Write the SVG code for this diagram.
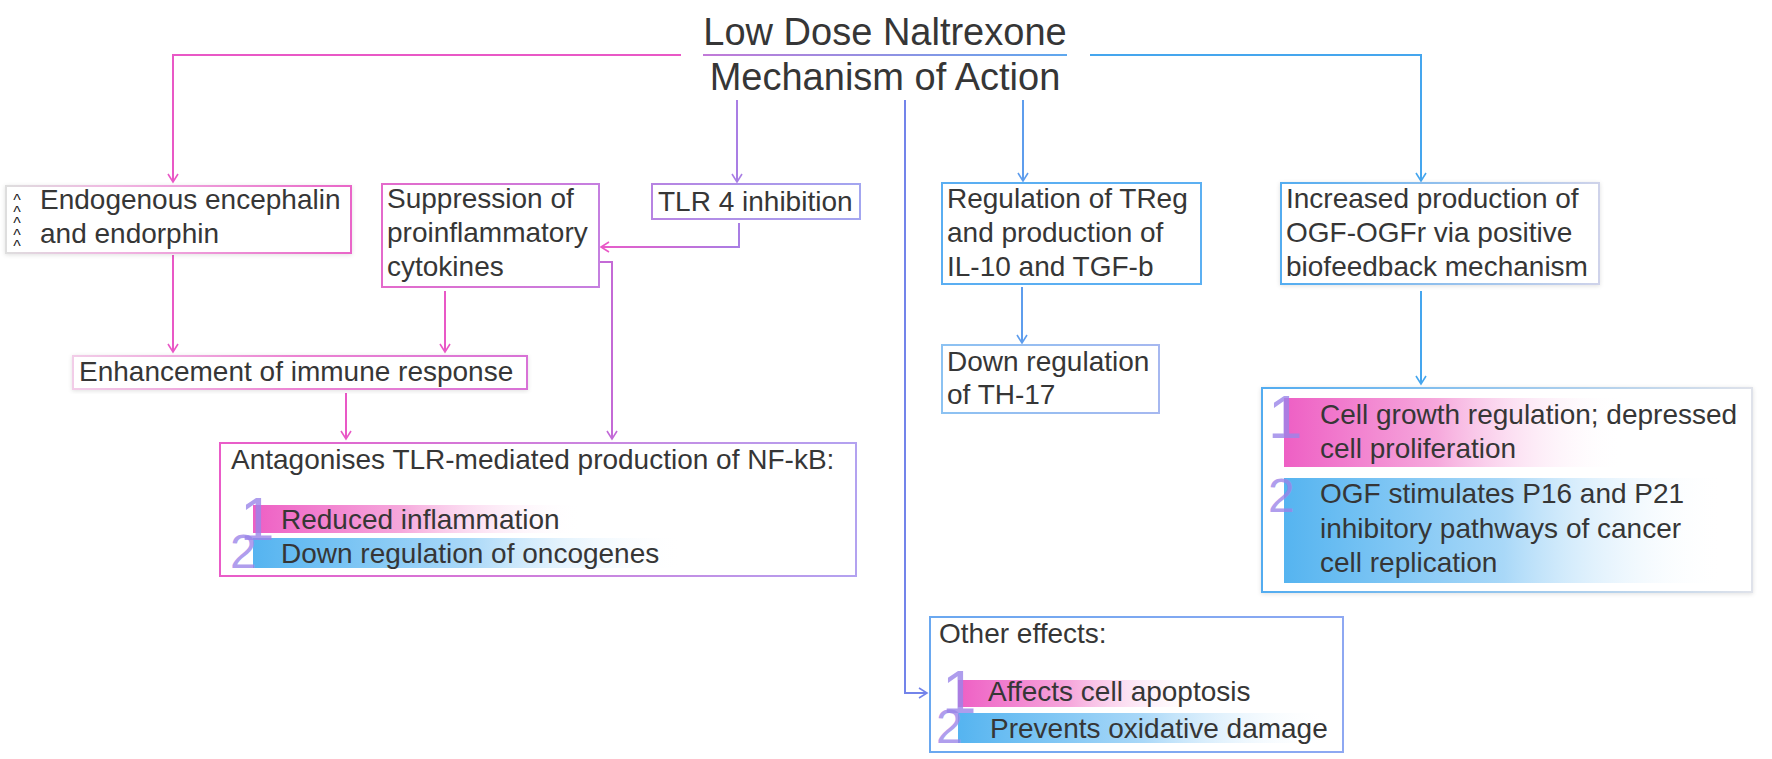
<svg xmlns="http://www.w3.org/2000/svg" width="1772" height="759" viewBox="0 0 1772 759">
<defs>
<style>
.t{font-family:"Liberation Sans",Arial,sans-serif;font-size:28px;fill:#363636}
.title{font-family:"Liberation Sans",Arial,sans-serif;font-size:38px;fill:#363636}
.box{fill:#fff;stroke-width:2}
.num{font-family:"Liberation Sans",Arial,sans-serif;fill:#9a84e8;fill-opacity:0.8}
.c{fill:none;stroke-width:2}
.caret{font-family:"Liberation Sans",Arial,sans-serif;font-size:16px;fill:#222;writing-mode:vertical-rl;text-orientation:upright;letter-spacing:-5.5px}
</style>
<linearGradient id="gEndo" x1="0" y1="0" x2="1" y2="0"><stop offset="0" stop-color="#dedede"/><stop offset="0.3" stop-color="#f0b8e2"/><stop offset="1" stop-color="#e966c8"/></linearGradient>
<linearGradient id="gSupp" x1="0" y1="0" x2="1" y2="0"><stop offset="0" stop-color="#e46acb"/><stop offset="1" stop-color="#c57fe0"/></linearGradient>
<linearGradient id="gTlr" x1="0" y1="0" x2="1" y2="0"><stop offset="0" stop-color="#b783e2"/><stop offset="1" stop-color="#a3a6f0"/></linearGradient>
<linearGradient id="gEnh" x1="0" y1="0" x2="1" y2="0"><stop offset="0" stop-color="#f2cde8"/><stop offset="0.5" stop-color="#ec82d2"/><stop offset="1" stop-color="#d872d6"/></linearGradient>
<linearGradient id="gAnt" x1="0" y1="0" x2="1" y2="0"><stop offset="0" stop-color="#ea5cc8"/><stop offset="1" stop-color="#b3a2f0"/></linearGradient>
<linearGradient id="gTreg" x1="0" y1="0" x2="1" y2="0"><stop offset="0" stop-color="#5aaef2"/><stop offset="1" stop-color="#5cb0f2"/></linearGradient>
<linearGradient id="gTh" x1="0" y1="0" x2="1" y2="0"><stop offset="0" stop-color="#8cc2f2"/><stop offset="1" stop-color="#a6b8f0"/></linearGradient>
<linearGradient id="gInc" x1="0" y1="0" x2="1" y2="0"><stop offset="0" stop-color="#52acf0"/><stop offset="1" stop-color="#cfd3ea"/></linearGradient>
<linearGradient id="gRight" x1="0" y1="0" x2="1" y2="0"><stop offset="0" stop-color="#52acf0"/><stop offset="1" stop-color="#dfe2ea"/></linearGradient>
<linearGradient id="gOther" x1="0" y1="0" x2="1" y2="0"><stop offset="0" stop-color="#6aa8f0"/><stop offset="1" stop-color="#8ea8f2"/></linearGradient>
<linearGradient id="barPink" x1="0" y1="0" x2="1" y2="0"><stop offset="0" stop-color="#ee5fc4"/><stop offset="0.45" stop-color="#f6a8dc"/><stop offset="1" stop-color="#ffffff" stop-opacity="0"/></linearGradient>
<linearGradient id="barBlue" x1="0" y1="0" x2="1" y2="0"><stop offset="0" stop-color="#55b4f0"/><stop offset="0.5" stop-color="#a9d8f8"/><stop offset="1" stop-color="#ffffff" stop-opacity="0"/></linearGradient>
<linearGradient id="gUnder" gradientUnits="userSpaceOnUse" x1="703" y1="0" x2="1067" y2="0"><stop offset="0" stop-color="#c27ad8"/><stop offset="1" stop-color="#5ea8ee"/></linearGradient>
<linearGradient id="gTlrC" gradientUnits="userSpaceOnUse" x1="739" y1="0" x2="601" y2="0"><stop offset="0" stop-color="#a97ee4"/><stop offset="1" stop-color="#e85bc9"/></linearGradient>
<marker id="aPink" markerUnits="userSpaceOnUse" markerWidth="14" markerHeight="14" refX="9" refY="6" orient="auto"><path d="M1,1 L9,6 L1,11" fill="none" stroke="#e958c6" stroke-width="1.6"/></marker>
<marker id="aPurple" markerUnits="userSpaceOnUse" markerWidth="14" markerHeight="14" refX="9" refY="6" orient="auto"><path d="M1,1 L9,6 L1,11" fill="none" stroke="#a97ee4" stroke-width="1.6"/></marker>
<marker id="aMag" markerUnits="userSpaceOnUse" markerWidth="14" markerHeight="14" refX="9" refY="6" orient="auto"><path d="M1,1 L9,6 L1,11" fill="none" stroke="#c36ad8" stroke-width="1.6"/></marker>
<marker id="aViolet" markerUnits="userSpaceOnUse" markerWidth="14" markerHeight="14" refX="9" refY="6" orient="auto"><path d="M1,1 L9,6 L1,11" fill="none" stroke="#7384ea" stroke-width="1.6"/></marker>
<marker id="aBlue" markerUnits="userSpaceOnUse" markerWidth="14" markerHeight="14" refX="9" refY="6" orient="auto"><path d="M1,1 L9,6 L1,11" fill="none" stroke="#5e9ded" stroke-width="1.6"/></marker>
<marker id="aSky" markerUnits="userSpaceOnUse" markerWidth="14" markerHeight="14" refX="9" refY="6" orient="auto"><path d="M1,1 L9,6 L1,11" fill="none" stroke="#45a6ee" stroke-width="1.6"/></marker>
<filter id="sh" x="-5%" y="-10%" width="110%" height="125%"><feDropShadow dx="0" dy="1" stdDeviation="2" flood-color="#000" flood-opacity="0.12"/></filter>
</defs>
<rect width="1772" height="759" fill="#fff"/>

<g id="title">
<text class="title" x="885" y="45" text-anchor="middle">Low Dose Naltrexone</text>
<line x1="703" y1="55" x2="1067" y2="55" stroke="url(#gUnder)" stroke-width="2"/>
<text class="title" x="885" y="90" text-anchor="middle">Mechanism of Action</text>
</g>

<g id="connectors">
<path class="c" d="M681,55 H173 V182" stroke="#e958c6" marker-end="url(#aPink)"/>
<path class="c" d="M737,100 V182" stroke="#a97ee4" marker-end="url(#aPurple)"/>
<path class="c" d="M905,100 V693 H927" stroke="#7384ea" marker-end="url(#aViolet)"/>
<path class="c" d="M1023,100 V181" stroke="#5e9ded" marker-end="url(#aBlue)"/>
<path class="c" d="M1090,55 H1421 V181" stroke="#45a6ee" marker-end="url(#aSky)"/>
<path class="c" d="M173,255 V352" stroke="#e958c6" marker-end="url(#aPink)"/>
<path class="c" d="M445,291 V352" stroke="#e958c6" marker-end="url(#aPink)"/>
<path class="c" d="M739,223 V247 H601" stroke="url(#gTlrC)" marker-end="url(#aPink)"/>
<path class="c" d="M599,262 H612 V439" stroke="#c46ad6" marker-end="url(#aMag)"/>
<path class="c" d="M346,393 V439" stroke="#e958c6" marker-end="url(#aPink)"/>
<path class="c" d="M1022,287 V343" stroke="#5e9ded" marker-end="url(#aBlue)"/>
<path class="c" d="M1421,291 V384" stroke="#45a6ee" marker-end="url(#aSky)"/>
</g>

<g id="endogenous">
<rect class="box" x="6" y="186" width="345" height="67" stroke="url(#gEndo)" filter="url(#sh)"/>
<text class="caret" x="17" y="192">^^^^^</text>
<text class="t" x="40" y="209">Endogenous encephalin</text>
<text class="t" x="40" y="243">and endorphin</text>
</g>

<g id="suppression">
<rect class="box" x="382" y="184" width="217" height="103" stroke="url(#gSupp)"/>
<text class="t" x="387" y="208">Suppression of</text>
<text class="t" x="387" y="242">proinflammatory</text>
<text class="t" x="387" y="276">cytokines</text>
</g>

<g id="tlr4">
<rect class="box" x="652" y="184" width="208" height="35" stroke="url(#gTlr)"/>
<text class="t" x="658" y="211">TLR 4 inhibition</text>
</g>

<g id="treg">
<rect class="box" x="942" y="183" width="259" height="101" stroke="url(#gTreg)"/>
<text class="t" x="947" y="208">Regulation of TReg</text>
<text class="t" x="947" y="242">and production of</text>
<text class="t" x="947" y="276">IL-10 and TGF-b</text>
</g>

<g id="ogf">
<rect class="box" x="1281" y="183" width="318" height="101" stroke="url(#gInc)" filter="url(#sh)"/>
<text class="t" x="1286" y="208">Increased production of</text>
<text class="t" x="1286" y="242">OGF-OGFr via positive</text>
<text class="t" x="1286" y="276">biofeedback mechanism</text>
</g>

<g id="enhancement">
<rect class="box" x="73" y="356" width="454" height="33" stroke="url(#gEnh)" filter="url(#sh)"/>
<text class="t" x="79" y="381">Enhancement of immune response</text>
</g>

<g id="th17">
<rect class="box" x="942" y="345" width="217" height="68" stroke="url(#gTh)"/>
<text class="t" x="947" y="371">Down regulation</text>
<text class="t" x="947" y="404">of TH-17</text>
</g>

<g id="antagonises">
<rect class="box" x="220" y="443" width="636" height="133" stroke="url(#gAnt)"/>
<text class="t" x="231" y="469">Antagonises TLR-mediated production of NF-kB:</text>
<rect x="253" y="505" width="330" height="28" fill="url(#barPink)"/>
<rect x="253" y="538" width="430" height="30" fill="url(#barBlue)"/>
<text class="num" x="240" y="540" font-size="62">1</text>
<text class="num" x="230" y="568" font-size="48">2</text>
<text class="t" x="281" y="529">Reduced inflammation</text>
<text class="t" x="281" y="563">Down regulation of oncogenes</text>
</g>

<g id="cellgrowth">
<rect class="box" x="1262" y="388" width="490" height="204" stroke="url(#gRight)" filter="url(#sh)"/>
<rect x="1284" y="398" width="340" height="69" fill="url(#barPink)"/>
<rect x="1284" y="478" width="440" height="105" fill="url(#barBlue)"/>
<text class="num" x="1268" y="438" font-size="62">1</text>
<text class="num" x="1268" y="512" font-size="48">2</text>
<text class="t" x="1320" y="424">Cell growth regulation; depressed</text>
<text class="t" x="1320" y="458">cell proliferation</text>
<text class="t" x="1320" y="503">OGF stimulates P16 and P21</text>
<text class="t" x="1320" y="538">inhibitory pathways of cancer</text>
<text class="t" x="1320" y="572">cell replication</text>
</g>

<g id="other">
<rect class="box" x="930" y="617" width="413" height="135" stroke="url(#gOther)"/>
<text class="t" x="939" y="643">Other effects:</text>
<rect x="958" y="680" width="250" height="27" fill="url(#barPink)"/>
<rect x="958" y="713" width="370" height="30" fill="url(#barBlue)"/>
<text class="num" x="942" y="713" font-size="62">1</text>
<text class="num" x="936" y="743" font-size="48">2</text>
<text class="t" x="988" y="701">Affects cell apoptosis</text>
<text class="t" x="990" y="738">Prevents oxidative damage</text>
</g>
</svg>
